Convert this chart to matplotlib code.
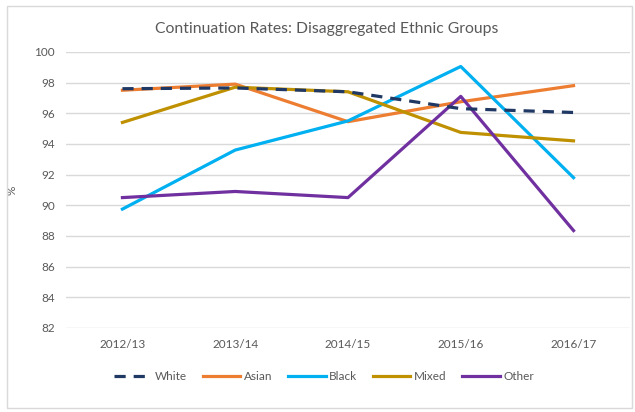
import matplotlib.pyplot as plt
from matplotlib.patches import Rectangle

years = ['2012/13', '2013/14', '2014/15', '2015/16', '2016/17']
white = [97.6, 97.65, 97.4, 96.3, 96.05]
asian = [97.5, 97.9, 95.45, 96.75, 97.8]
black = [89.75, 93.6, 95.5, 99.05, 91.8]
mixed = [95.4, 97.7, 97.4, 94.75, 94.2]
other = [90.5, 90.9, 90.5, 97.1, 88.35]

plt.rcParams['font.family'] = ['Lato', 'DejaVu Sans']
txt = '#595959'

fig = plt.figure(figsize=(6.35, 4.12), dpi=100)
fig.patches.append(Rectangle((0.011, 0.01), 0.985, 0.975, transform=fig.transFigure,
                             fill=False, edgecolor='#d9d9d9', linewidth=1))
ax = fig.add_axes([0.104, 0.204, 0.888, 0.67])

x = range(len(years))
lw = 2.3
ax.plot(x, white, color='#203864', lw=lw, ls=(0, (3.5, 2.5)), label='White', zorder=3)
ax.plot(x, asian, color='#ED7D31', lw=lw, label='Asian')
ax.plot(x, black, color='#00B0F0', lw=lw, label='Black')
ax.plot(x, mixed, color='#BF9000', lw=lw, label='Mixed')
ax.plot(x, other, color='#7030A0', lw=lw, label='Other')

ax.set_xlim(-0.5, 4.5)
ax.set_ylim(82, 100)
ax.set_yticks(range(82, 101, 2))
ax.set_xticks(list(x))
ax.set_xticklabels(years)
ax.grid(axis='y', color='#d9d9d9', lw=1)
ax.set_axisbelow(True)
for s in ax.spines.values():
    s.set_visible(False)
ax.tick_params(length=0, colors=txt, labelsize=8.5, pad=8)
ax.set_ylabel('%', color=txt, fontsize=8.5, labelpad=12)

fig.text(0.514, 0.93, 'Continuation Rates: Disaggregated Ethnic Groups', ha='center',
         va='center', color=txt, fontsize=11.3)
fig.legend(loc='center', bbox_to_anchor=(0.51, 0.087), ncol=5, frameon=False,
           fontsize=8.5, labelcolor=txt, handlelength=3.2, columnspacing=1.3,
           handletextpad=0.3)

fig.savefig('out.png', dpi=100)
